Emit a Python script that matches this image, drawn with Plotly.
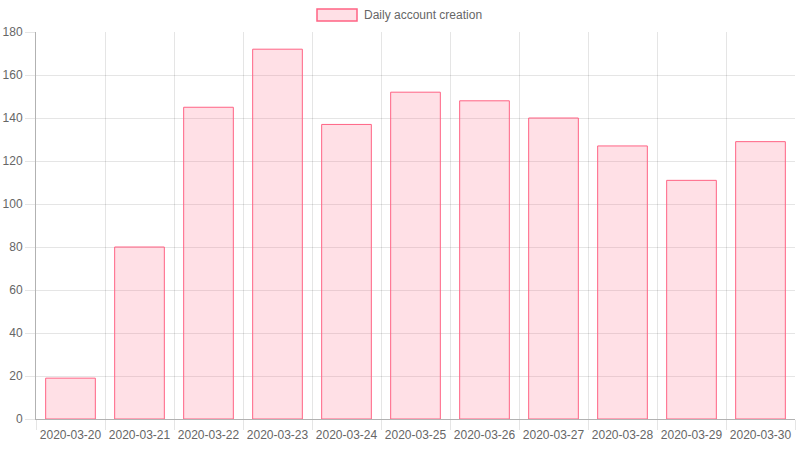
import plotly.graph_objects as go

dates = ["2020-03-20", "2020-03-21", "2020-03-22", "2020-03-23", "2020-03-24", "2020-03-25",
         "2020-03-26", "2020-03-27", "2020-03-28", "2020-03-29", "2020-03-30"]
accounts = [19, 80, 145, 172, 137, 152, 148, 140, 127, 111, 129]
series_name = "Daily account creation"

fill = "rgba(255,99,132,0.2)"
border = "rgba(255,99,132,1)"
grid = "rgba(0,0,0,0.1)"

fig = go.Figure(go.Bar(
    x=dates, y=accounts, name=series_name,
    marker=dict(color=fill, line=dict(color=border, width=1)),
    showlegend=False,
))

L, R, T, B = 36, 3, 32, 31
W, H = 798, 450
pw = W - L - R
ph = H - T - B

def px(x):
    return (x - L) / pw

def py(y):
    return (H - B - y) / ph

fig.add_shape(type="rect", xref="paper", yref="paper",
              x0=px(317), x1=px(357), y0=py(21), y1=py(9),
              fillcolor=fill, line=dict(color=border, width=1.5))
fig.add_annotation(xref="paper", yref="paper", x=px(362), y=py(15),
                   text=series_name, showarrow=False, xanchor="left", yanchor="middle",
                   font=dict(size=12, color="#666"))

fig.update_layout(
    width=W, height=H,
    margin=dict(l=L, r=R, t=T, b=B),
    paper_bgcolor="white", plot_bgcolor="white",
    font=dict(family="Liberation Sans, Arial, sans-serif", size=12, color="#666"),
    bargap=0.28,
    xaxis=dict(
        type="category", tickson="boundaries", showgrid=True, gridcolor=grid,
        ticks="outside", ticklen=10, tickcolor=grid, tickangle=0, automargin=False,
        ticklabelstandoff=5,
        showline=True, linecolor="rgba(0,0,0,0.3)", linewidth=1,
        tickfont=dict(size=12, color="#666"), fixedrange=True,
    ),
    yaxis=dict(
        range=[0, 180], dtick=20, showgrid=True, gridcolor=grid,
        ticks="outside", ticklen=10, tickcolor=grid, automargin=False,
        showline=True, linecolor="rgba(0,0,0,0.3)", linewidth=1,
        zeroline=False, tickfont=dict(size=12, color="#666"), fixedrange=True,
    ),
)

fig.write_html("out.html", config={"displayModeBar": False},
               post_script="document.body.style.margin='0';document.body.style.overflow='hidden';")
